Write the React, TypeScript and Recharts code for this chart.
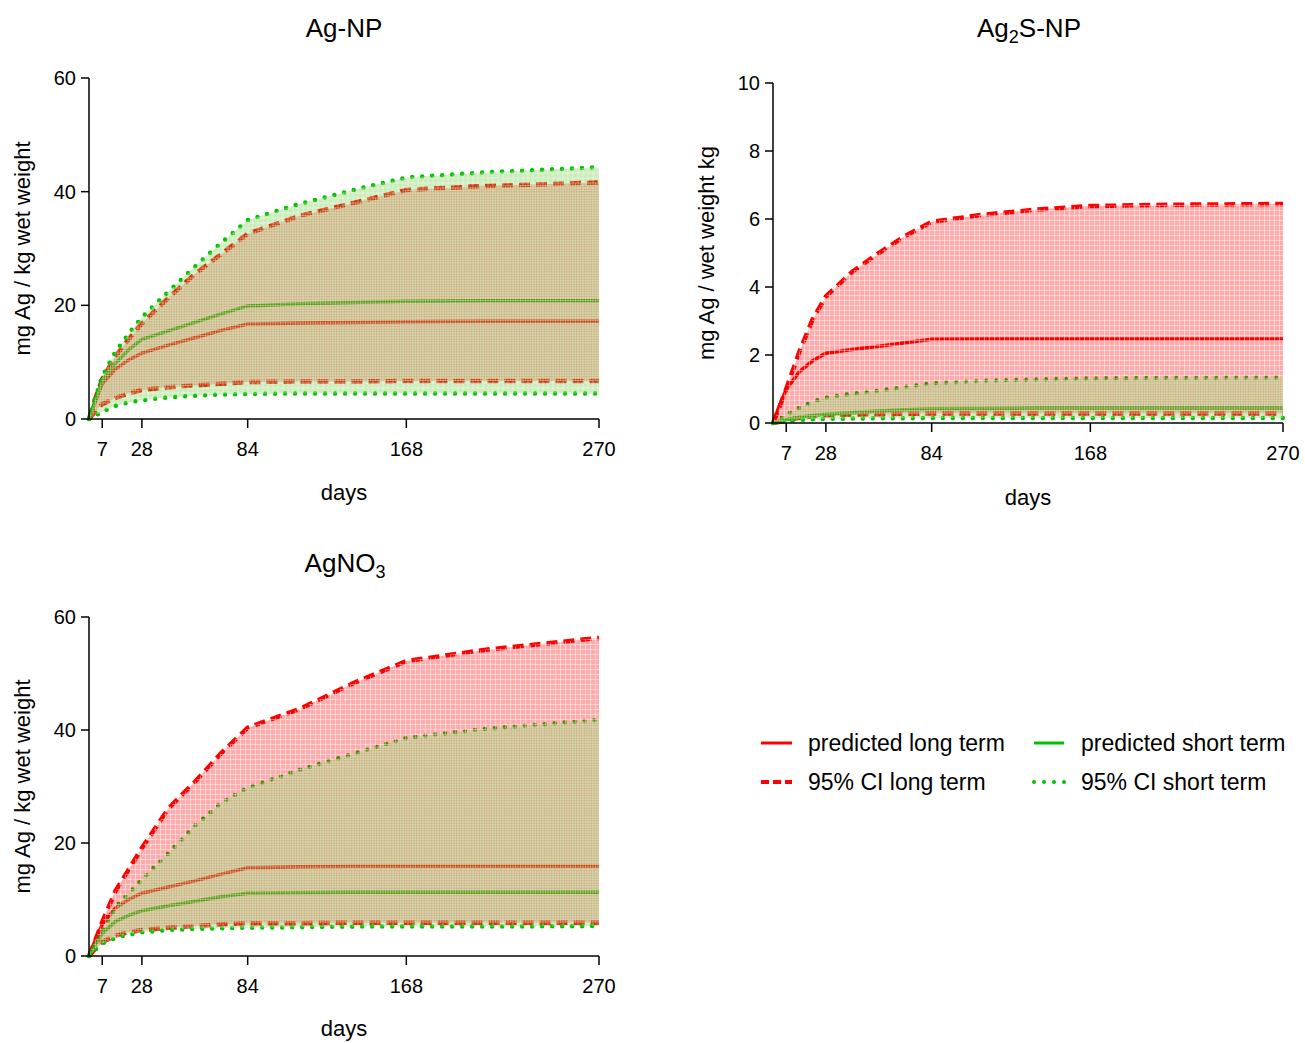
import React from 'react';
import { ComposedChart, Line, Area, XAxis, YAxis } from 'recharts';

const FONT = '"Liberation Sans", Arial, Helvetica, sans-serif';

// sampling days (x axis)
const days = [0, 3, 7, 14, 21, 28, 42, 56, 70, 84, 112, 140, 168, 210, 270];
const dayTicks = [7, 28, 84, 168, 270];

// Ag-NP
const agNpLong = [0, 2.8, 6.2, 8.8, 10.4, 11.6, 13.0, 14.3, 15.6, 16.7, 16.9, 17.0, 17.1, 17.2, 17.2];
const agNpLongLo = [0, 1.2, 2.6, 3.7, 4.5, 5.1, 5.6, 5.9, 6.2, 6.5, 6.6, 6.6, 6.7, 6.7, 6.7];
const agNpLongHi = [0, 3.2, 7.0, 11.0, 14.0, 16.8, 21.3, 25.5, 29.0, 32.6, 35.8, 38.0, 40.3, 41.0, 41.6];
const agNpShort = [0, 3.0, 6.8, 9.8, 12.2, 14.0, 15.5, 17.0, 18.5, 19.9, 20.3, 20.5, 20.7, 20.8, 20.8];
const agNpShortLo = [0, 0.5, 1.3, 2.3, 2.9, 3.3, 3.8, 4.1, 4.3, 4.4, 4.5, 4.5, 4.5, 4.5, 4.5];
const agNpShortHi = [0, 3.4, 7.5, 11.8, 15.0, 17.9, 22.4, 26.8, 31.0, 35.0, 37.9, 40.3, 42.5, 43.4, 44.3];

// Ag2S-NP
const ag2sLong = [0, 0.45, 0.99, 1.51, 1.83, 2.05, 2.16, 2.26, 2.36, 2.46, 2.47, 2.47, 2.47, 2.47, 2.47];
const ag2sLongLo = [0, 0.03, 0.08, 0.15, 0.2, 0.23, 0.25, 0.26, 0.27, 0.28, 0.28, 0.28, 0.28, 0.28, 0.28];
const ag2sLongHi = [0, 0.4, 1.0, 2.1, 3.05, 3.72, 4.45, 5.0, 5.5, 5.92, 6.13, 6.28, 6.38, 6.42, 6.44];
const ag2sShort = [0, 0.03, 0.1, 0.17, 0.22, 0.26, 0.3, 0.35, 0.39, 0.42, 0.43, 0.44, 0.44, 0.44, 0.44];
const ag2sShortLo = [0, 0.02, 0.05, 0.09, 0.11, 0.12, 0.13, 0.14, 0.14, 0.15, 0.15, 0.15, 0.15, 0.15, 0.15];
const ag2sShortHi = [0, 0.1, 0.25, 0.45, 0.62, 0.75, 0.86, 0.95, 1.06, 1.17, 1.24, 1.28, 1.31, 1.33, 1.34];

// AgNO3
const agno3Long = [0, 2.5, 5.6, 8.5, 10.0, 11.1, 12.2, 13.3, 14.5, 15.6, 15.8, 15.9, 15.9, 15.9, 15.9];
const agno3LongLo = [0, 1.2, 2.5, 3.6, 4.2, 4.6, 5.0, 5.3, 5.6, 5.8, 5.8, 5.9, 5.9, 5.9, 5.9];
const agno3LongHi = [0, 2.5, 6.0, 11.5, 15.3, 19.1, 26.1, 30.8, 35.9, 40.4, 43.8, 48.3, 52.2, 54.2, 56.3];
const agno3Short = [0, 1.8, 4.0, 6.1, 7.2, 8.0, 8.9, 9.7, 10.5, 11.1, 11.2, 11.3, 11.3, 11.3, 11.3];
const agno3ShortLo = [0, 1.0, 2.2, 3.2, 3.8, 4.2, 4.6, 4.8, 4.9, 5.0, 5.1, 5.2, 5.2, 5.2, 5.3];
const agno3ShortHi = [0, 1.8, 4.3, 8.6, 11.1, 13.5, 18.2, 23.0, 27.1, 29.8, 33.0, 35.8, 38.6, 40.2, 41.8];

const ticks60 = [0, 20, 40, 60];
const ticks10 = [0, 2, 4, 6, 8, 10];

const RED = '#ff0000';
const GREEN = '#00c000';

function buildRows(long: number[], longLo: number[], longHi: number[], short: number[], shortLo: number[], shortHi: number[]) {
    return days.map((day, i) => ({
        day,
        long: long[i],
        longLo: longLo[i],
        longHi: longHi[i],
        longBand: [longLo[i], longHi[i]],
        short: short[i],
        shortLo: shortLo[i],
        shortHi: shortHi[i],
        shortBand: [shortLo[i], shortHi[i]],
    }));
}

type PanelProps = {
    id: string;
    left: number;
    top: number;
    width: number;
    marginTop: number;
    marginRight: number;
    plotHeight: number;
    xAxisHeight: number;
    daysOffset: number;
    rows: any[];
    yMax: number;
    yTicks: number[];
    yLabel: string;
};

function Panel(p: PanelProps) {
    const height = p.marginTop + p.plotHeight + p.xAxisHeight;
    const tickStyle = { fill: '#000', fontSize: 20, fontFamily: FONT };
    return (
        <div style={{ position: 'absolute', left: p.left, top: p.top }}>
            <ComposedChart
                width={p.width}
                height={height}
                data={p.rows}
                margin={{ top: p.marginTop, right: p.marginRight, bottom: 0, left: 0 }}
            >
                <defs>
                    <pattern id={`red-${p.id}`} patternUnits="userSpaceOnUse" width="5" height="5">
                        <rect width="5" height="5" fill={RED} fillOpacity={0.33} />
                        <path d="M0 0.5H5M0.5 0V5" stroke="#fff" strokeOpacity={0.45} strokeWidth={1} />
                    </pattern>
                    <pattern id={`green-${p.id}`} patternUnits="userSpaceOnUse" width="5" height="5">
                        <rect width="5" height="5" fill="#58c020" fillOpacity={0.3} />
                        <path d="M0 3H5M3 0V5" stroke="#fff" strokeOpacity={0.35} strokeWidth={1} />
                    </pattern>
                </defs>
                <XAxis
                    type="number"
                    dataKey="day"
                    domain={[0, 270]}
                    ticks={dayTicks}
                    interval={0}
                    height={p.xAxisHeight}
                    stroke="#000"
                    strokeWidth={1.5}
                    tickSize={9}
                    tickMargin={14}
                    tick={tickStyle}
                    label={{ value: 'days', position: 'insideBottom', offset: p.daysOffset, fill: '#000', fontSize: 22, fontFamily: FONT }}
                />
                <YAxis
                    type="number"
                    domain={[0, p.yMax]}
                    ticks={p.yTicks}
                    interval={0}
                    width={89}
                    stroke="#000"
                    strokeWidth={1.5}
                    tickSize={8}
                    tickMargin={5}
                    tick={tickStyle}
                    label={{ value: p.yLabel, angle: -90, position: 'insideLeft', offset: 22, textAnchor: 'middle', fill: '#000', fontSize: 22, fontFamily: FONT }}
                />
                <Line dataKey="long" stroke={RED} strokeWidth={3.5} dot={false} activeDot={false} isAnimationActive={false} />
                <Line dataKey="longLo" stroke={RED} strokeWidth={4.5} strokeDasharray="11 6" dot={false} activeDot={false} isAnimationActive={false} />
                <Line dataKey="longHi" stroke={RED} strokeWidth={4.5} strokeDasharray="11 6" dot={false} activeDot={false} isAnimationActive={false} />
                <Line dataKey="short" stroke={GREEN} strokeWidth={3.5} dot={false} activeDot={false} isAnimationActive={false} />
                <Line dataKey="shortLo" stroke={GREEN} strokeWidth={4.5} strokeDasharray="0 10" strokeLinecap="round" dot={false} activeDot={false} isAnimationActive={false} />
                <Line dataKey="shortHi" stroke={GREEN} strokeWidth={4.5} strokeDasharray="0 10" strokeLinecap="round" dot={false} activeDot={false} isAnimationActive={false} />
                <Area dataKey="longBand" stroke="none" fill={`url(#red-${p.id})`} fillOpacity={1} zIndex={450} dot={false} activeDot={false} isAnimationActive={false} />
                <Area dataKey="shortBand" stroke="none" fill={`url(#green-${p.id})`} fillOpacity={1} zIndex={450} dot={false} activeDot={false} isAnimationActive={false} />
            </ComposedChart>
        </div>
    );
}

function Title({ x, top, children }: { x: number; top: number; children: React.ReactNode }) {
    return (
        <div
            style={{
                position: 'absolute',
                left: x,
                top,
                transform: 'translateX(-50%)',
                fontFamily: FONT,
                fontSize: 26,
                lineHeight: '26px',
                whiteSpace: 'nowrap',
                color: '#000',
            }}
        >
            {children}
        </div>
    );
}

const Sub = ({ children }: { children: React.ReactNode }) => (
    <span style={{ fontSize: 18, verticalAlign: '-6px', lineHeight: '18px' }}>{children}</span>
);

function LegendBox() {
    const text = { fontFamily: FONT, fontSize: 23, fill: '#000' };
    return (
        <svg style={{ position: 'absolute', left: 740, top: 720 }} width={560} height={90}>
            <line x1={21} x2={52} y1={23} y2={23} stroke={RED} strokeWidth={3} />
            <text x={68} y={31} {...text}>predicted long term</text>
            <line x1={21} x2={52} y1={62} y2={62} stroke={RED} strokeWidth={4} strokeDasharray="8 4" />
            <text x={68} y={70} {...text}>95% CI long term</text>
            <line x1={294} x2={324} y1={23} y2={23} stroke={GREEN} strokeWidth={3} />
            <text x={341} y={31} {...text}>predicted short term</text>
            <line x1={294} x2={326} y1={62} y2={62} stroke={GREEN} strokeWidth={4} strokeDasharray="0 10" strokeLinecap="round" />
            <text x={341} y={70} {...text}>95% CI short term</text>
        </svg>
    );
}

export default function App() {
    const agNpRows = buildRows(agNpLong, agNpLongLo, agNpLongHi, agNpShort, agNpShortLo, agNpShortHi);
    const ag2sRows = buildRows(ag2sLong, ag2sLongLo, ag2sLongHi, ag2sShort, ag2sShortLo, ag2sShortHi);
    const agno3Rows = buildRows(agno3Long, agno3LongLo, agno3LongHi, agno3Short, agno3ShortLo, agno3ShortHi);

    return (
        <div style={{ position: 'absolute', left: 0, top: 0, width: 1305, height: 1043, overflow: 'hidden', background: '#fff' }}>
            <Panel id="agnp" left={0} top={0} width={640} marginTop={78} marginRight={41} plotHeight={341}
                xAxisHeight={90} daysOffset={9} rows={agNpRows} yMax={60} yTicks={ticks60} yLabel="mg Ag / kg wet weight" />
            <Panel id="ag2s" left={684} top={0} width={619} marginTop={83} marginRight={20} plotHeight={340}
                xAxisHeight={90} daysOffset={8} rows={ag2sRows} yMax={10} yTicks={ticks10} yLabel="mg Ag / wet weight kg" />
            <Panel id="agno3" left={0} top={539} width={640} marginTop={78} marginRight={41} plotHeight={339}
                xAxisHeight={86} daysOffset={6} rows={agno3Rows} yMax={60} yTicks={ticks60} yLabel="mg Ag / kg wet weight" />
            <Title x={344} top={15}>Ag-NP</Title>
            <Title x={1029} top={15}>Ag<Sub>2</Sub>S-NP</Title>
            <Title x={345} top={550}>AgNO<Sub>3</Sub></Title>
            <LegendBox />
        </div>
    );
}
